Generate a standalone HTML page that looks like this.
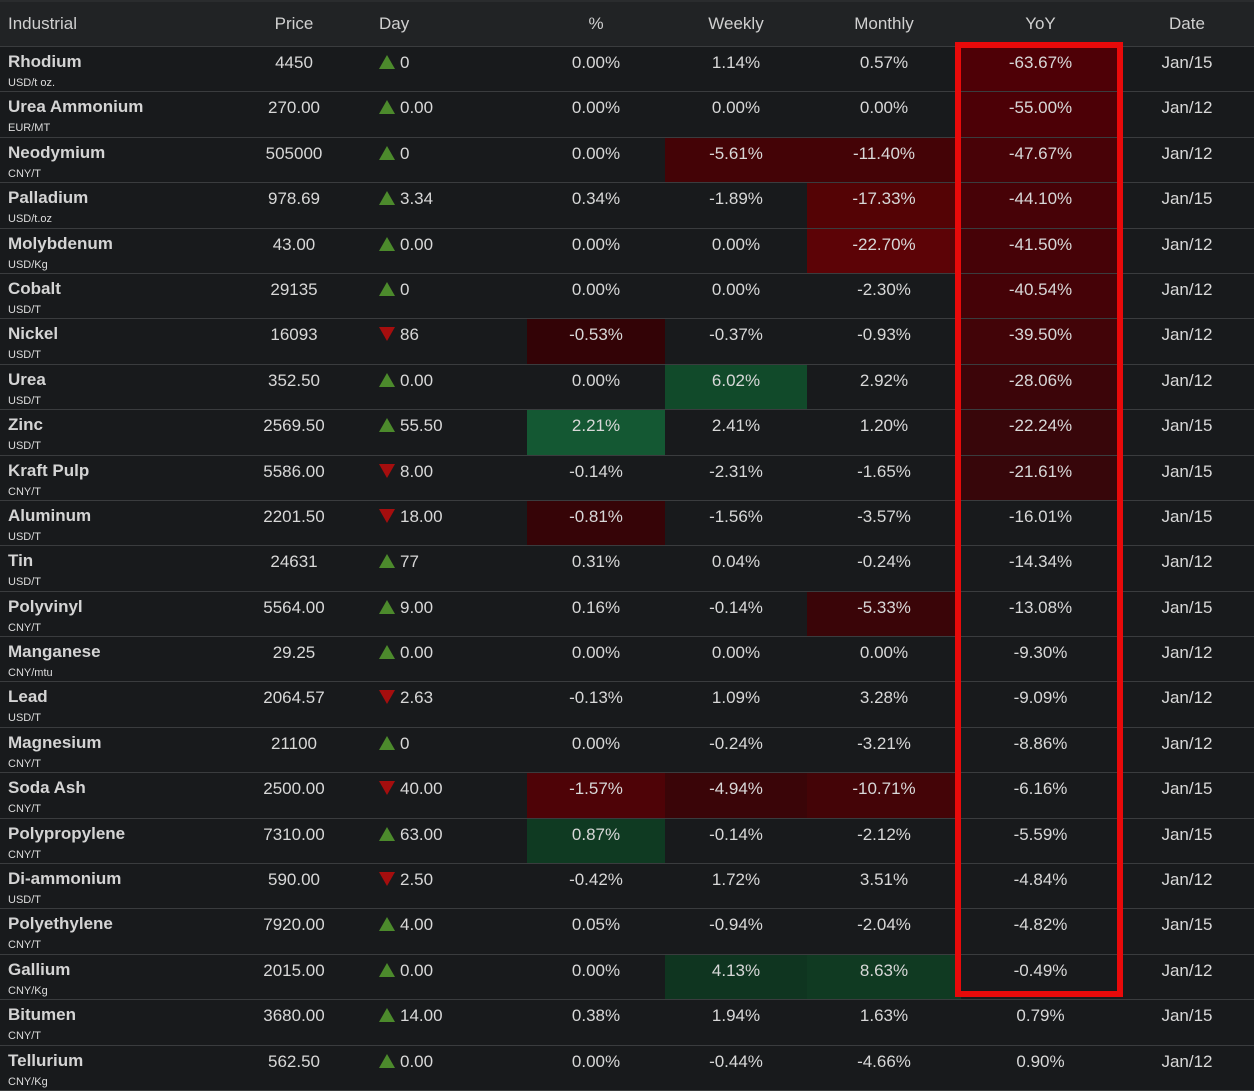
<!DOCTYPE html>
<html><head><meta charset="utf-8"><style>
html,body{margin:0;padding:0;background:#181a1c;width:1254px;height:1090px;overflow:hidden;font-family:"Liberation Sans",Arial,sans-serif;}
table{border-collapse:collapse;table-layout:fixed;width:1254px;position:absolute;left:0;top:2px;}
th{background:#212325;color:#d0d0d0;font-weight:normal;font-size:17px;height:44px;text-align:center;border-bottom:1px solid #3a3c3e;padding:0}
th.n{text-align:left;padding-left:8px}
td{height:45.4px;border-bottom:1px solid #3a3c3e;color:#d8d8d8;font-size:17px;line-height:18px;text-align:center;vertical-align:top;padding:7px 0 0 0;box-sizing:border-box;}
td.n{text-align:left;padding-left:8px;padding-top:6px;position:relative}
td.n b{color:#d4d4d4;font-size:17px}
td.n span{position:absolute;left:8px;top:30px;font-size:11px;line-height:12px;color:#ddd}
td.d{text-align:left;padding-left:21px}
.u,.dn{display:inline-block;width:0;height:0;margin-right:5px;vertical-align:top;margin-top:1px}
.u{border-left:8px solid transparent;border-right:8px solid transparent;border-bottom:14px solid #4c8a2c}
.dn{border-left:8px solid transparent;border-right:8px solid transparent;border-top:14px solid #a50e0e}
.box{position:absolute;left:955px;top:42px;width:156px;height:943px;border:6px solid #e80a0a}
#top{position:absolute;left:0;top:0;width:1254px;height:2px;background:#2a2c2e}
</style></head><body>
<div id="top"></div>
<table>
<colgroup><col style="width:230px"><col style="width:128px"><col style="width:169px"><col style="width:138px"><col style="width:142px"><col style="width:154px"><col style="width:159px"><col style="width:134px"></colgroup>
<tr><th class="n">Industrial</th><th>Price</th><th style="text-align:left;padding-left:21px">Day</th><th>%</th><th>Weekly</th><th>Monthly</th><th>YoY</th><th>Date</th></tr>
<tr><td class="n"><b>Rhodium</b><span>USD/t oz.</span></td><td>4450</td><td class="d"><i class="u"></i>0</td><td>0.00%</td><td>1.14%</td><td>0.57%</td><td style="background:#4e0006">-63.67%</td><td>Jan/15</td></tr>
<tr><td class="n"><b>Urea Ammonium</b><span>EUR/MT</span></td><td>270.00</td><td class="d"><i class="u"></i>0.00</td><td>0.00%</td><td>0.00%</td><td>0.00%</td><td style="background:#4c0006">-55.00%</td><td>Jan/12</td></tr>
<tr><td class="n"><b>Neodymium</b><span>CNY/T</span></td><td>505000</td><td class="d"><i class="u"></i>0</td><td>0.00%</td><td style="background:#440306">-5.61%</td><td style="background:#440306">-11.40%</td><td style="background:#480207">-47.67%</td><td>Jan/12</td></tr>
<tr><td class="n"><b>Palladium</b><span>USD/t.oz</span></td><td>978.69</td><td class="d"><i class="u"></i>3.34</td><td>0.34%</td><td>-1.89%</td><td style="background:#540305">-17.33%</td><td style="background:#470207">-44.10%</td><td>Jan/15</td></tr>
<tr><td class="n"><b>Molybdenum</b><span>USD/Kg</span></td><td>43.00</td><td class="d"><i class="u"></i>0.00</td><td>0.00%</td><td>0.00%</td><td style="background:#5c0306">-22.70%</td><td style="background:#460207">-41.50%</td><td>Jan/12</td></tr>
<tr><td class="n"><b>Cobalt</b><span>USD/T</span></td><td>29135</td><td class="d"><i class="u"></i>0</td><td>0.00%</td><td>0.00%</td><td>-2.30%</td><td style="background:#450207">-40.54%</td><td>Jan/12</td></tr>
<tr><td class="n"><b>Nickel</b><span>USD/T</span></td><td>16093</td><td class="d"><i class="dn"></i>86</td><td style="background:#330306">-0.53%</td><td>-0.37%</td><td>-0.93%</td><td style="background:#420408">-39.50%</td><td>Jan/12</td></tr>
<tr><td class="n"><b>Urea</b><span>USD/T</span></td><td>352.50</td><td class="d"><i class="u"></i>0.00</td><td>0.00%</td><td style="background:#114a2a">6.02%</td><td>2.92%</td><td style="background:#3c0509">-28.06%</td><td>Jan/12</td></tr>
<tr><td class="n"><b>Zinc</b><span>USD/T</span></td><td>2569.50</td><td class="d"><i class="u"></i>55.50</td><td style="background:#145833">2.21%</td><td>2.41%</td><td>1.20%</td><td style="background:#38060a">-22.24%</td><td>Jan/15</td></tr>
<tr><td class="n"><b>Kraft Pulp</b><span>CNY/T</span></td><td>5586.00</td><td class="d"><i class="dn"></i>8.00</td><td>-0.14%</td><td>-2.31%</td><td>-1.65%</td><td style="background:#37060a">-21.61%</td><td>Jan/15</td></tr>
<tr><td class="n"><b>Aluminum</b><span>USD/T</span></td><td>2201.50</td><td class="d"><i class="dn"></i>18.00</td><td style="background:#360407">-0.81%</td><td>-1.56%</td><td>-3.57%</td><td>-16.01%</td><td>Jan/15</td></tr>
<tr><td class="n"><b>Tin</b><span>USD/T</span></td><td>24631</td><td class="d"><i class="u"></i>77</td><td>0.31%</td><td>0.04%</td><td>-0.24%</td><td>-14.34%</td><td>Jan/12</td></tr>
<tr><td class="n"><b>Polyvinyl</b><span>CNY/T</span></td><td>5564.00</td><td class="d"><i class="u"></i>9.00</td><td>0.16%</td><td>-0.14%</td><td style="background:#3a0508">-5.33%</td><td>-13.08%</td><td>Jan/15</td></tr>
<tr><td class="n"><b>Manganese</b><span>CNY/mtu</span></td><td>29.25</td><td class="d"><i class="u"></i>0.00</td><td>0.00%</td><td>0.00%</td><td>0.00%</td><td>-9.30%</td><td>Jan/12</td></tr>
<tr><td class="n"><b>Lead</b><span>USD/T</span></td><td>2064.57</td><td class="d"><i class="dn"></i>2.63</td><td>-0.13%</td><td>1.09%</td><td>3.28%</td><td>-9.09%</td><td>Jan/12</td></tr>
<tr><td class="n"><b>Magnesium</b><span>CNY/T</span></td><td>21100</td><td class="d"><i class="u"></i>0</td><td>0.00%</td><td>-0.24%</td><td>-3.21%</td><td>-8.86%</td><td>Jan/12</td></tr>
<tr><td class="n"><b>Soda Ash</b><span>CNY/T</span></td><td>2500.00</td><td class="d"><i class="dn"></i>40.00</td><td style="background:#4e0307">-1.57%</td><td style="background:#3a0508">-4.94%</td><td style="background:#440407">-10.71%</td><td>-6.16%</td><td>Jan/15</td></tr>
<tr><td class="n"><b>Polypropylene</b><span>CNY/T</span></td><td>7310.00</td><td class="d"><i class="u"></i>63.00</td><td style="background:#0f3a22">0.87%</td><td>-0.14%</td><td>-2.12%</td><td>-5.59%</td><td>Jan/15</td></tr>
<tr><td class="n"><b>Di-ammonium</b><span>USD/T</span></td><td>590.00</td><td class="d"><i class="dn"></i>2.50</td><td>-0.42%</td><td>1.72%</td><td>3.51%</td><td>-4.84%</td><td>Jan/12</td></tr>
<tr><td class="n"><b>Polyethylene</b><span>CNY/T</span></td><td>7920.00</td><td class="d"><i class="u"></i>4.00</td><td>0.05%</td><td>-0.94%</td><td>-2.04%</td><td>-4.82%</td><td>Jan/15</td></tr>
<tr><td class="n"><b>Gallium</b><span>CNY/Kg</span></td><td>2015.00</td><td class="d"><i class="u"></i>0.00</td><td>0.00%</td><td style="background:#0f3520">4.13%</td><td style="background:#103a22">8.63%</td><td>-0.49%</td><td>Jan/12</td></tr>
<tr><td class="n"><b>Bitumen</b><span>CNY/T</span></td><td>3680.00</td><td class="d"><i class="u"></i>14.00</td><td>0.38%</td><td>1.94%</td><td>1.63%</td><td>0.79%</td><td>Jan/15</td></tr>
<tr><td class="n"><b>Tellurium</b><span>CNY/Kg</span></td><td>562.50</td><td class="d"><i class="u"></i>0.00</td><td>0.00%</td><td>-0.44%</td><td>-4.66%</td><td>0.90%</td><td>Jan/12</td></tr>
</table>
<div class="box"></div>
</body></html>
